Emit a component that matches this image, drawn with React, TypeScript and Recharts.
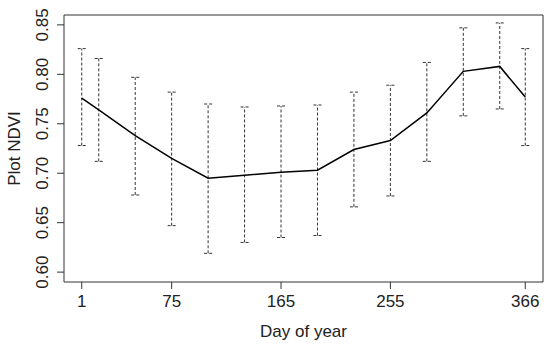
import { LineChart, Line, XAxis, YAxis, ErrorBar, ReferenceArea } from "recharts";

const days = [1, 15, 45, 75, 105, 135, 165, 195, 225, 255, 285, 315, 345, 366];
const meanNdvi = [0.776, 0.764, 0.738, 0.715, 0.695, 0.698, 0.701, 0.703, 0.724, 0.733, 0.761, 0.803, 0.808, 0.777];
const upperNdvi = [0.826, 0.816, 0.797, 0.782, 0.77, 0.767, 0.768, 0.769, 0.782, 0.789, 0.812, 0.847, 0.852, 0.826];
const lowerNdvi = [0.728, 0.712, 0.678, 0.647, 0.619, 0.63, 0.635, 0.637, 0.666, 0.677, 0.712, 0.758, 0.765, 0.728];

const xTicks = [1, 75, 165, 255, 366];
const yTicks = [0.6, 0.65, 0.7, 0.75, 0.8, 0.85];

const data = days.map((day, i) => ({
  day,
  ndvi: meanNdvi[i],
  err: [meanNdvi[i] - lowerNdvi[i], upperNdvi[i] - meanNdvi[i]],
}));

const FONT = "'Liberation Sans', Arial, sans-serif";
const INK = "#222";

const YTick = (props: any) => {
  const { y, payload } = props;
  const x = 48;
  return (
    <text
      x={x}
      y={y}
      transform={`rotate(-90 ${x} ${y})`}
      textAnchor="middle"
      fontFamily={FONT}
      fontSize={17}
      fill={INK}
    >
      {payload.value.toFixed(2)}
    </text>
  );
};

const YLabel = (props: any) => {
  const { viewBox } = props;
  const x = 20;
  const y = viewBox.y + viewBox.height / 2;
  return (
    <text
      x={x}
      y={y}
      transform={`rotate(-90 ${x} ${y})`}
      textAnchor="middle"
      fontFamily={FONT}
      fontSize={17}
      fill={INK}
    >
      Plot NDVI
    </text>
  );
};

const XLabel = (props: any) => {
  const { viewBox } = props;
  return (
    <text
      x={viewBox.x + viewBox.width / 2}
      y={viewBox.y + 55}
      textAnchor="middle"
      fontFamily={FONT}
      fontSize={17}
      fill={INK}
    >
      Day of year
    </text>
  );
};

const App = () => {
  return (
    <div style={{ position: "absolute", left: 0, top: 0, background: "#fff" }}>
      <LineChart
        width={550}
        height={348}
        data={data}
        margin={{ top: 15, right: 7, left: 0, bottom: 0 }}
      >
        <XAxis
          dataKey="day"
          type="number"
          domain={[-13.6, 380.6]}
          ticks={xTicks}
          allowDataOverflow
          axisLine={false}
          tickLine={{ stroke: "#333" }}
          tickSize={7}
          tickMargin={6}
          height={66}
          tick={{ fontFamily: FONT, fontSize: 17, fill: INK }}
          label={<XLabel />}
        />
        <YAxis
          type="number"
          domain={[0.59, 0.86]}
          ticks={yTicks}
          allowDataOverflow
          axisLine={false}
          tickLine={{ stroke: "#333" }}
          tickSize={7}
          width={64}
          tick={<YTick />}
          label={<YLabel />}
        />
        <ReferenceArea
          x1={-13.6}
          x2={380.6}
          y1={0.59}
          y2={0.86}
          fill="none"
          stroke="#333"
          strokeWidth={1}
          ifOverflow="visible"
        />
        <Line
          dataKey="ndvi"
          type="linear"
          stroke="#000"
          strokeWidth={1.5}
          dot={false}
          isAnimationActive={false}
        >
          <ErrorBar
            dataKey="err"
            direction="y"
            width={4}
            stroke="#333"
            strokeWidth={1}
            strokeDasharray="3 2"
          />
        </Line>
      </LineChart>
    </div>
  );
};

export default App;
